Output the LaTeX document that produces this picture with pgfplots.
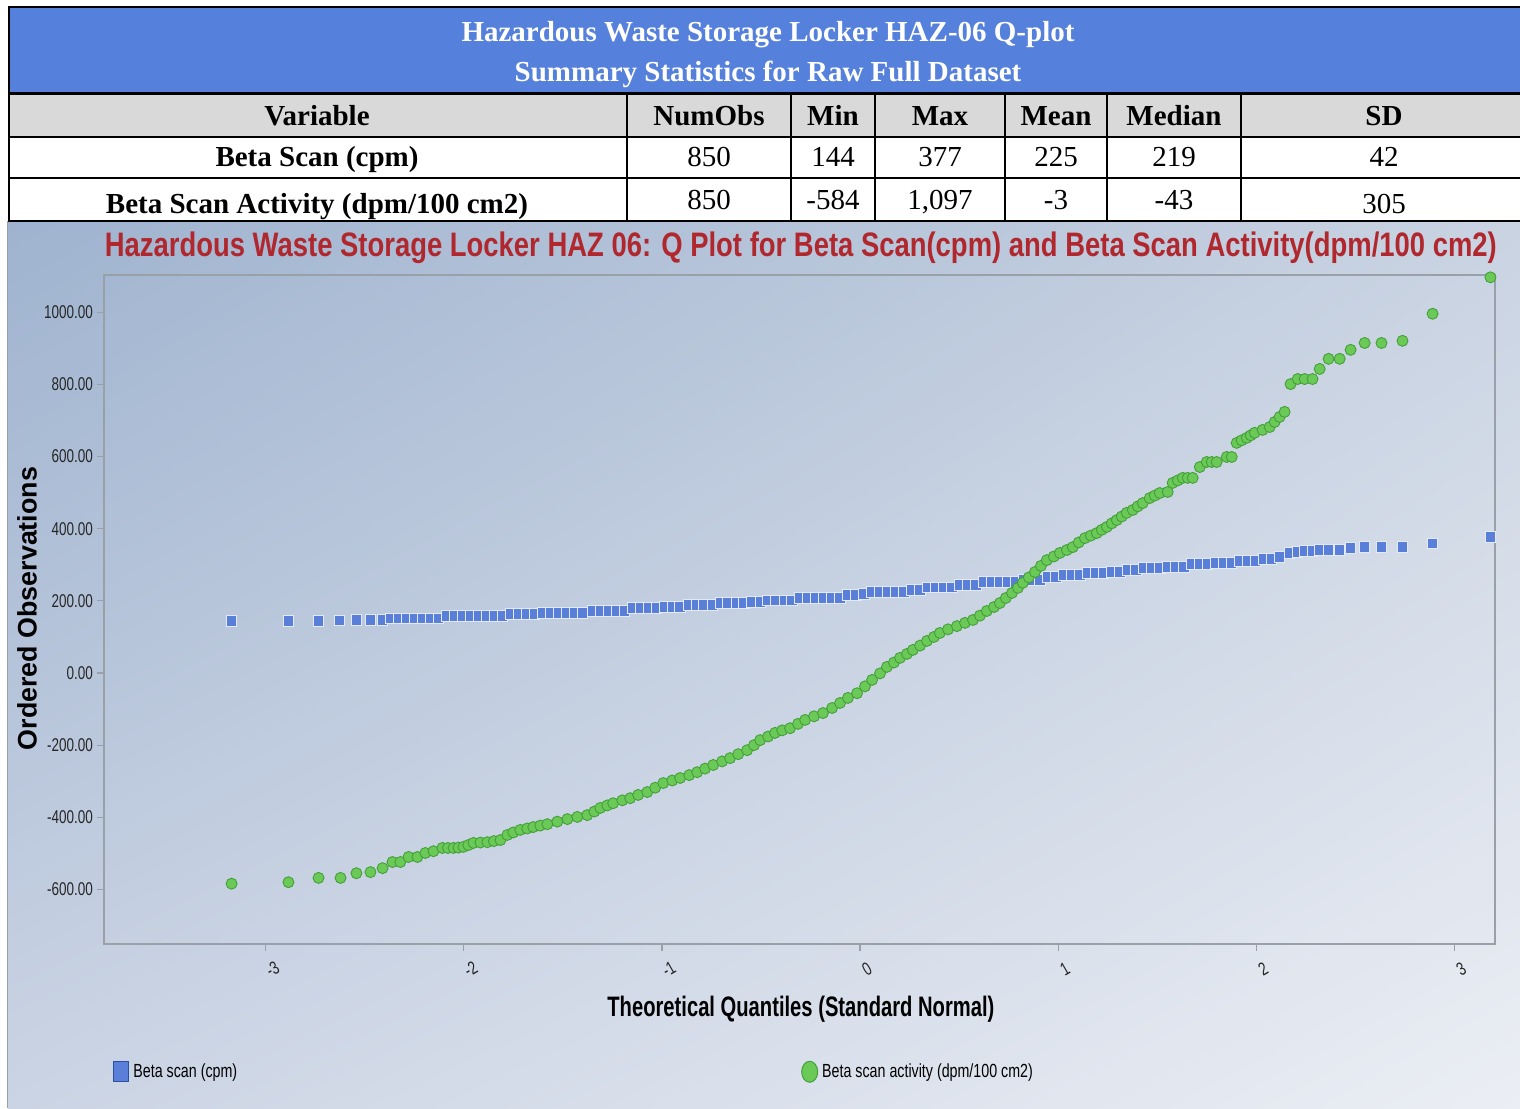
\documentclass[border=0pt]{standalone}
\usepackage{fontspec}
\setmainfont{Liberation Serif}
\newfontfamily\sansf{Liberation Sans}
\usepackage{graphicx}
\usepackage{pgfplots}
\usepackage{pgfplotstable}
\usetikzlibrary{shadings}
\pgfplotsset{compat=1.18}

\definecolor{hdrblue}{HTML}{5580DC}
\definecolor{rowgray}{HTML}{D9D9D9}
\definecolor{titlered}{HTML}{B0282E}
\definecolor{bgA}{HTML}{9FB3CF}
\definecolor{bgB}{HTML}{C9D3E2}
\definecolor{bgC}{HTML}{CBD4E4}
\definecolor{bgD}{HTML}{EBEEF4}
\definecolor{axgray}{HTML}{9AA0A8}
\definecolor{tickc}{HTML}{262626}
\definecolor{blueM}{HTML}{5A7FD8}
\definecolor{blueE}{HTML}{E2E9F8}
\definecolor{blueD}{HTML}{2E4FA0}
\definecolor{greenM}{HTML}{6BC958}
\definecolor{greenD}{HTML}{43A038}

\newcommand{\sqz}[2]{\scalebox{#1}[1]{#2}}
\newcommand{\tickf}{\sansf\fontsize{9.25}{10}\selectfont}
\newcommand{\legf}{\sansf\fontsize{9.5}{11}\selectfont}
\newcommand{\tabf}{\fontsize{14.5}{16}\selectfont}

% Beta scan (cpm): theoretical quantile, ordered observation
\pgfplotstableread{
q v
-3.172 144
-2.885 144
-2.733 144
-2.627 145
-2.542 147
-2.471 147
-2.410 147
-2.370 152
-2.330 152
-2.289 152
-2.249 152
-2.209 152
-2.168 152
-2.128 152
-2.088 158
-2.047 158
-2.007 158
-1.967 158
-1.926 158
-1.886 158
-1.846 158
-1.805 158
-1.765 164
-1.725 164
-1.684 164
-1.644 164
-1.604 166
-1.563 166
-1.523 166
-1.483 166
-1.442 166
-1.402 166
-1.352 172
-1.311 172
-1.271 172
-1.230 172
-1.190 172
-1.150 180
-1.109 180
-1.069 180
-1.029 180
-0.988 183
-0.948 183
-0.908 183
-0.867 189
-0.827 189
-0.787 189
-0.746 189
-0.706 194
-0.666 194
-0.625 194
-0.585 194
-0.545 197
-0.504 197
-0.464 202
-0.424 202
-0.383 202
-0.343 202
-0.303 208
-0.262 208
-0.222 208
-0.182 208
-0.141 208
-0.101 208
-0.061 216
-0.020 216
0.020 219
0.061 225
0.101 225
0.141 225
0.182 225
0.222 225
0.262 230
0.303 230
0.343 238
0.383 238
0.424 238
0.464 238
0.504 244
0.545 244
0.585 244
0.625 252
0.666 252
0.706 252
0.746 252
0.787 252
0.827 258
0.867 258
0.908 258
0.948 266
0.988 266
1.029 272
1.069 272
1.109 272
1.150 277
1.190 277
1.230 277
1.271 280
1.311 280
1.352 286
1.392 286
1.432 291
1.473 291
1.513 291
1.553 294
1.594 294
1.634 294
1.674 302
1.715 302
1.755 302
1.795 305
1.836 305
1.876 305
1.916 311
1.957 311
1.997 311
2.037 316
2.078 316
2.118 322
2.168 333
2.209 336
2.244 338
2.284 338
2.320 341
2.365 341
2.421 341
2.476 347
2.547 349
2.632 349
2.738 349
2.890 360
3.182 377
}\betascan

% Beta scan activity (dpm/100 cm2)
\pgfplotstableread{
q v
-3.172 -584
-2.885 -580
-2.733 -568
-2.622 -568
-2.542 -555
-2.471 -552
-2.410 -541
-2.360 -524
-2.320 -524
-2.279 -510
-2.234 -510
-2.194 -499
-2.153 -494
-2.108 -485
-2.080 -485
-2.052 -485
-2.027 -484
-2.002 -482
-1.977 -477
-1.951 -471
-1.916 -470
-1.881 -469
-1.848 -466
-1.815 -463
-1.780 -449
-1.750 -442
-1.715 -435
-1.680 -431
-1.649 -427
-1.614 -423
-1.578 -419
-1.528 -412
-1.477 -405
-1.427 -399
-1.377 -394
-1.341 -384
-1.311 -374
-1.276 -367
-1.246 -361
-1.200 -353
-1.160 -347
-1.120 -338
-1.074 -330
-1.034 -318
-0.993 -305
-0.948 -298
-0.908 -291
-0.862 -283
-0.822 -275
-0.782 -265
-0.741 -255
-0.696 -245
-0.656 -236
-0.615 -225
-0.570 -214
-0.535 -200
-0.504 -186
-0.464 -176
-0.429 -166
-0.393 -159
-0.353 -153
-0.313 -141
-0.277 -130
-0.232 -120
-0.187 -111
-0.141 -97
-0.101 -83
-0.061 -69
-0.015 -56
0.025 -37
0.061 -19
0.101 -1
0.136 17
0.171 29
0.202 42
0.237 53
0.267 64
0.303 76
0.338 89
0.373 100
0.403 111
0.444 121
0.489 130
0.530 139
0.570 147
0.605 159
0.640 172
0.676 183
0.706 194
0.736 208
0.767 222
0.797 236
0.822 250
0.852 265
0.883 280
0.913 297
0.943 313
0.978 323
1.009 333
1.044 341
1.074 349
1.104 362
1.135 374
1.165 381
1.195 388
1.220 397
1.246 405
1.271 415
1.296 424
1.321 434
1.346 444
1.377 452
1.402 462
1.427 471
1.462 485
1.488 492
1.513 499
1.553 502
1.578 527
1.604 534
1.629 541
1.654 541
1.679 541
1.715 571
1.750 585
1.775 585
1.800 585
1.851 599
1.876 599
1.901 638
1.926 645
1.952 652
1.972 659
1.992 666
2.032 674
2.068 682
2.093 696
2.118 710
2.143 724
2.173 801
2.209 815
2.244 815
2.284 815
2.320 843
2.365 871
2.421 871
2.476 896
2.547 915
2.632 915
2.738 921
2.890 996
3.182 1097
}\betaact

\begin{document}
\begin{tikzpicture}
\useasboundingbox (0,0) rectangle (760pt,-554pt);
\begin{scope}[x=0.5pt,y=-0.5pt]
  % chart background
  \shade[upper left=bgA, upper right=bgB, lower left=bgC, lower right=bgD]
    (8,221) rectangle (1520,1108);
  \draw[draw=axgray, line width=0.75pt] (7.5,221) -- (7.5,1108);
  % summary table
  \fill[hdrblue] (8,8) rectangle (1520,92);
  \fill[rowgray] (8,95) rectangle (1520,137);
  \fill[white] (8,137) rectangle (1520,220);
  \draw[line width=1pt] (8,7) -- (1520,7);
  \draw[line width=1.5pt] (8,93.5) -- (1520,93.5);
  \draw[line width=0.9pt] (8,137) -- (1520,137) (8,178) -- (1520,178);
  \draw[line width=1pt] (8,220.5) -- (1520,220.5);
  \draw[line width=1pt] (8.5,6) -- (8.5,221);
  \foreach \c in {627,791,875,1005,1107,1241}
    \draw[line width=0.9pt] (\c,94) -- (\c,220);
  \begin{scope}[every node/.style={anchor=base, inner sep=0pt, font=\tabf}]
    \node[text=white, font=\tabf\bfseries] at (768,41) {Hazardous Waste Storage Locker HAZ-06 Q-plot};
    \node[text=white, font=\tabf\bfseries] at (768,81) {Summary Statistics for Raw Full Dataset};
    \node[font=\tabf\bfseries] at (317,125) {Variable};
    \node[font=\tabf\bfseries] at (709,125) {NumObs};
    \node[font=\tabf\bfseries] at (833,125) {Min};
    \node[font=\tabf\bfseries] at (940,125) {Max};
    \node[font=\tabf\bfseries] at (1056,125) {Mean};
    \node[font=\tabf\bfseries] at (1174,125) {Median};
    \node[font=\tabf\bfseries] at (1384,125) {SD};
    \node[font=\tabf\bfseries] at (317,166) {Beta Scan (cpm)};
    \node at (709,166) {850};
    \node at (833,166) {144};
    \node at (940,166) {377};
    \node at (1056,166) {225};
    \node at (1174,166) {219};
    \node at (1384,166) {42};
    \node[font=\tabf\bfseries] at (317,213) {Beta Scan Activity (dpm/100 cm2)};
    \node at (709,209) {850};
    \node at (833,209) {-584};
    \node at (940,209) {1,097};
    \node at (1056,209) {-3};
    \node at (1174,209) {-43};
    \node at (1384,213) {305};
  \end{scope}
\end{scope}

\begin{axis}[
  at={(52pt,-472pt)}, anchor=south west,
  width=695.5pt, height=334.5pt, scale only axis,
  xmin=-3.816, xmax=3.205, ymin=-751.3, ymax=1103.4,
  clip=false,
  axis line style={draw=axgray, line width=0.8pt},
  tick align=outside, xtick pos=bottom, ytick pos=left,
  major tick length=3.5pt,
  tick style={draw=axgray, line width=0.6pt},
  xtick={-3,-2,-1,0,1,2,3},
  xticklabels={\sqz{0.73}{-3},\sqz{0.73}{-2},\sqz{0.73}{-1},\sqz{0.73}{0},\sqz{0.73}{1},\sqz{0.73}{2},\sqz{0.73}{3}},
  xticklabel style={font=\tickf, text=tickc, rotate=30, anchor=center, yshift=-9.5pt, xshift=-1.5pt},
  ytick={-600,-400,-200,0,200,400,600,800,1000},
  yticklabels={\sqz{0.73}{-600.00},\sqz{0.73}{-400.00},\sqz{0.73}{-200.00},\sqz{0.73}{0.00},\sqz{0.73}{200.00},\sqz{0.73}{400.00},\sqz{0.73}{600.00},\sqz{0.73}{800.00},\sqz{0.73}{1000.00}},
  yticklabel style={font=\tickf, text=tickc, xshift=1.5pt},
  every axis title shift=0pt,
  title={\resizebox{696pt}{12.3pt}{\sansf\bfseries Hazardous Waste Storage Locker HAZ 06: Q Plot for Beta Scan(cpm) and Beta Scan Activity(dpm/100 cm2)}},
  title style={at={(axis description cs:0.501,1.040)}, anchor=center, text=titlered, inner sep=0pt},
  xlabel={\resizebox{193.5pt}{10.2pt}{\sansf\bfseries Theoretical Quantiles (Standard Normal)}},
  xlabel style={at={(axis description cs:0.501,-0.0975)}, anchor=center, inner sep=0pt},
  ylabel={\resizebox{141.5pt}{!}{\sansf\bfseries Ordered Observations}},
  ylabel style={at={(axis description cs:-0.0554,0.5015)}, anchor=center, inner sep=0pt},
  legend columns=2,
  legend cell align=left,
  legend style={at={(axis description cs:0.0065,-0.191)}, anchor=west, draw=none, fill=none,
    inner sep=0pt, font=\legf,
    /tikz/every even column/.append style={column sep=280pt}},
]
\addplot[only marks, mark=square*, mark size=2.6pt,
  mark options={fill=blueM, draw=blueE, line width=0.45pt},
  legend image code/.code={\draw[draw=blueD, fill=blueM, line width=0.5pt] (0pt,-5pt) rectangle (7.5pt,5pt);}]
  table[x=q, y=v] {\betascan};
\addlegendentry{\sqz{0.75}{Beta scan (cpm)}}
\addplot[only marks, mark=*, mark size=2.75pt,
  mark options={fill=greenM, draw=greenD, line width=0.45pt},
  legend image code/.code={\draw[draw=greenD, fill=greenM, line width=0.5pt] (4pt,0pt) ellipse [x radius=4pt, y radius=5.25pt];}]
  table[x=q, y=v] {\betaact};
\addlegendentry{\sqz{0.75}{Beta scan activity (dpm/100 cm2)}}
\end{axis}
\end{tikzpicture}
\end{document}
